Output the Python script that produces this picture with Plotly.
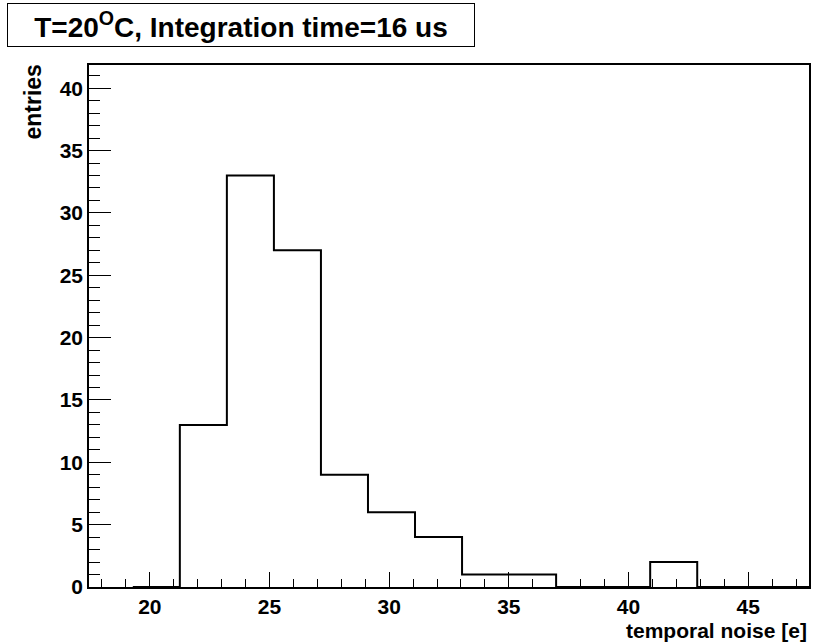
import plotly.graph_objects as go

# ── Histogram data ────────────────────────────────────────────────────────────
BIN_START = 19.29
BIN_WIDTH = 1.965
counts = [0, 13, 33, 27, 9, 6, 4, 1, 1, 0, 0, 2, 0, 0, 0]

X_RANGE = [17.46, 47.54]
Y_RANGE = [0, 41.86]

TITLE = "T=20<sup>O</sup>C, Integration time=16 us"
X_TITLE = "temporal noise [e]"
Y_TITLE = "entries"

FONT = "Liberation Sans, Arial, Helvetica, sans-serif"
BLACK = "#000000"

edges = [BIN_START + i * BIN_WIDTH for i in range(len(counts) + 1)]
# step outline: repeat last value so the final bin gets its top edge
xs = edges
ys = counts + [counts[-1]]

fig = go.Figure(go.Scatter(
    x=xs, y=ys,
    mode="lines",
    line=dict(color=BLACK, width=2, shape="hv"),
    showlegend=False,
    hoverinfo="skip",
))

axis_common = dict(
    showgrid=False, zeroline=False,
    showline=True, linecolor=BLACK, linewidth=1.5, mirror=True,
    ticks="inside", tickcolor=BLACK, tickwidth=1,
    tickfont=dict(family=FONT, size=21, color=BLACK, weight="bold"),
)

fig.update_xaxes(
    range=X_RANGE, tick0=0, dtick=5, ticklen=15,
    minor=dict(dtick=1, tick0=0, ticks="inside", ticklen=8, tickcolor=BLACK, tickwidth=1),
    **axis_common,
)
fig.update_yaxes(
    range=Y_RANGE, tick0=0, dtick=5, ticklen=22,
    minor=dict(dtick=1, tick0=0, ticks="inside", ticklen=11, tickcolor=BLACK, tickwidth=1),
    **axis_common,
)

fig.add_annotation(
    xref="paper", yref="paper", x=-0.1136, y=1.1188,
    xanchor="left", yanchor="top",
    text=TITLE, showarrow=False,
    font=dict(family=FONT, size=28, color=BLACK, weight="bold"),
    bordercolor=BLACK, borderwidth=1, borderpad=3,
    bgcolor="white", width=460, height=36, align="center",
)
fig.add_annotation(
    xref="paper", yref="paper", x=-0.0776, y=1.004,
    xanchor="center", yanchor="top", textangle=-90,
    text=Y_TITLE, showarrow=False,
    font=dict(family=FONT, size=23, color=BLACK, weight="bold"),
)
fig.add_annotation(
    xref="paper", yref="paper", x=1.0, y=-0.083,
    xanchor="right", yanchor="middle",
    text=X_TITLE, showarrow=False,
    font=dict(family=FONT, size=21, color=BLACK, weight="bold"),
)

fig.update_layout(
    width=816, height=644,
    plot_bgcolor="white", paper_bgcolor="white",
    margin=dict(l=89, r=5, t=65, b=57),
)

# drop the default page margin so the figure sits at the window's corner
fig.write_html(
    "out.html",
    config={"displayModeBar": False},
    post_script="document.body.style.margin='0';",
)
